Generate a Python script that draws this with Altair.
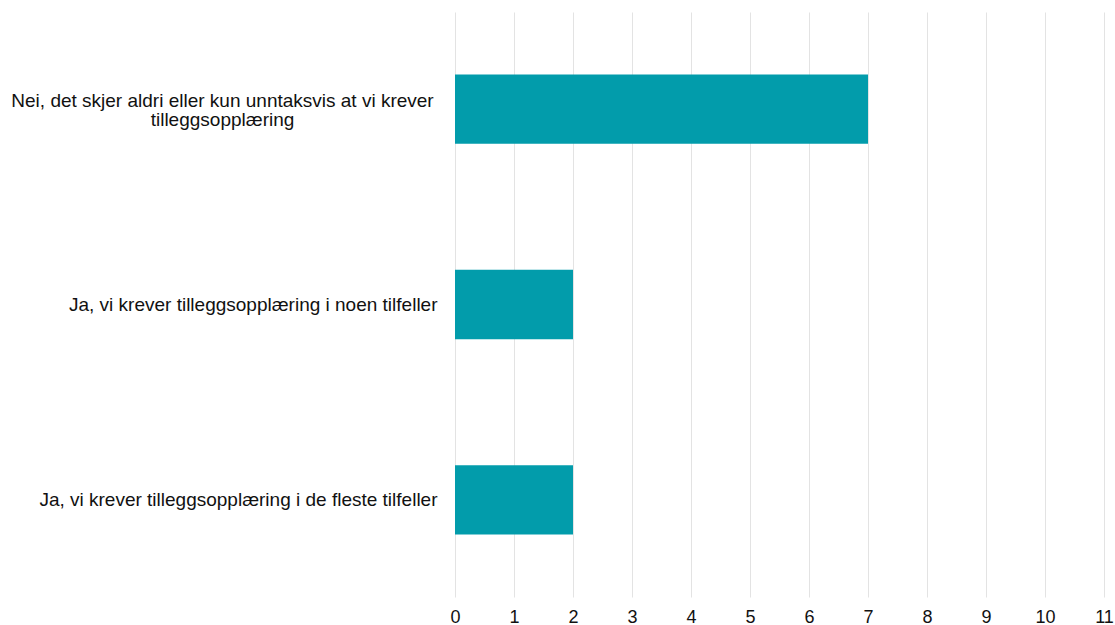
import altair as alt
import pandas as pd

categories = [
    "Nei, det skjer aldri eller kun unntaksvis at vi krever|tilleggsopplæring",
    "Ja, vi krever tilleggsopplæring i noen tilfeller",
    "Ja, vi krever tilleggsopplæring i de fleste tilfeller",
]
values = [7, 2, 2]
x_ticks = list(range(0, 12))

df = pd.DataFrame({"cat": categories, "val": values})

FONT = "Liberation Sans"
MULTI = "indexof(datum.value, '|') >= 0"

chart = (
    alt.Chart(df)
    .mark_bar(color="#029CAB")
    .encode(
        x=alt.X(
            "val:Q",
            scale=alt.Scale(domain=[0, 11], nice=False),
            axis=alt.Axis(
                title=None,
                values=x_ticks,
                grid=True,
                gridColor="#e3e3e3",
                domain=False,
                ticks=False,
                labelFont=FONT,
                labelFontSize=18,
                labelColor="#111111",
                labelPadding=11,
                labelFlush=False,
            ),
        ),
        y=alt.Y(
            "cat:N",
            sort=categories,
            scale=alt.Scale(paddingInner=0.645, paddingOuter=0.32),
            axis=alt.Axis(
                title=None,
                domain=False,
                ticks=False,
                grid=False,
                labelFont=FONT,
                labelFontSize=19,
                labelColor="#111111",
                labelLimit=0,
                labelLineHeight=19,
                labelExpr="split(datum.label, '|')",
                labelAlign={
                    "condition": {"test": MULTI, "value": "center"},
                    "value": "right",
                },
                labelPadding={
                    "condition": {"test": MULTI, "value": 233},
                    "value": 18,
                },
                labelOffset={
                    "condition": {"test": MULTI, "value": -8},
                    "value": 0,
                },
            ),
        ),
    )
    .properties(
        width=649,
        height=585,
        autosize=alt.AutoSizeParams(type="none"),
        padding={"left": 455, "top": 12, "right": 11, "bottom": 28},
    )
    .configure_view(stroke=None)
)

chart.save("out.html", embed_options={"renderer": "svg", "actions": False})
